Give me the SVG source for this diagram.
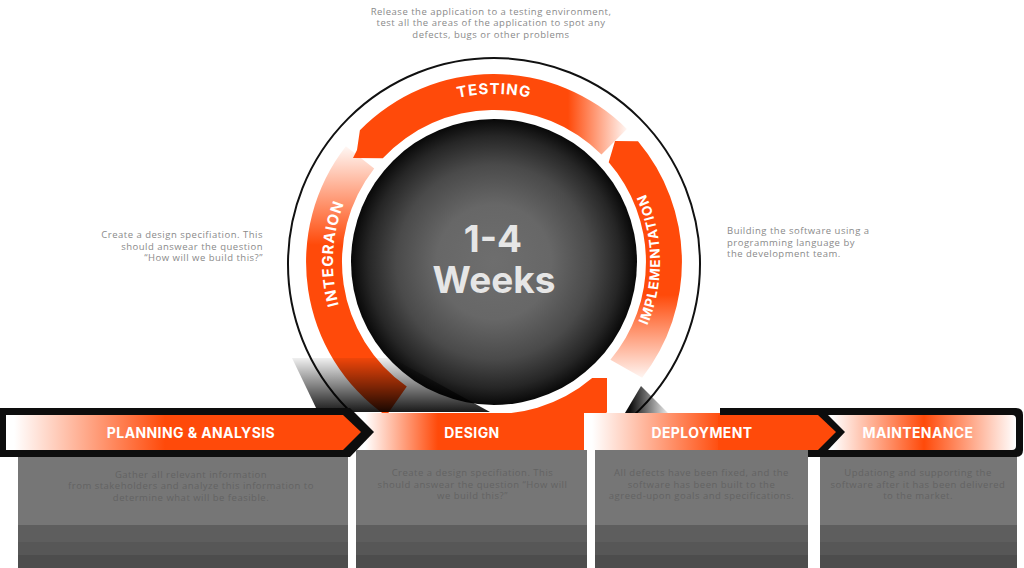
<svg xmlns="http://www.w3.org/2000/svg" width="1024" height="568" viewBox="0 0 1024 568">
<defs>
<style>
.ann{font-family:"Open Sans","Liberation Sans",sans-serif;font-size:9.5px;fill:#8a8a8a;letter-spacing:0.5px}
.card-t{font-family:"Open Sans","Liberation Sans",sans-serif;font-size:9.5px;fill:#636363;text-anchor:middle;letter-spacing:0.5px}
.lbl{font-family:Inter,"Liberation Sans",sans-serif;font-weight:700;font-size:14px;fill:#fff;text-anchor:middle;letter-spacing:0.4px}
.arc-t{font-family:Inter,"Liberation Sans",sans-serif;font-weight:700;fill:#fff;letter-spacing:1px}
.big{font-family:Inter,"Liberation Sans",sans-serif;font-weight:700;font-size:37px;fill:#e6e6e6;text-anchor:middle}
.ctop{fill:#767676}.s1{fill:#5e5e5e}.s2{fill:#575757}.s3{fill:#4d4d4d}
.org{fill:#ff4a0a}
</style>
<radialGradient id="core" cx="0.5" cy="0.5" r="0.5">
<stop offset="0" stop-color="#6e6e6e"/>
<stop offset="0.4" stop-color="#676767"/>
<stop offset="0.68" stop-color="#4a4a4a"/>
<stop offset="0.88" stop-color="#262626"/>
<stop offset="1" stop-color="#080808"/>
</radialGradient>
<linearGradient id="gTest" gradientUnits="userSpaceOnUse" x1="568" y1="0" x2="628" y2="0">
<stop offset="0" stop-color="#ff4a0a"/><stop offset="1" stop-color="#ff4a0a" stop-opacity="0.03"/>
</linearGradient>
<linearGradient id="gImpl" gradientUnits="userSpaceOnUse" x1="0" y1="295" x2="0" y2="380">
<stop offset="0" stop-color="#ff4a0a"/><stop offset="1" stop-color="#ff4a0a" stop-opacity="0.03"/>
</linearGradient>
<linearGradient id="gInt" gradientUnits="userSpaceOnUse" x1="0" y1="145" x2="0" y2="245">
<stop offset="0" stop-color="#ff4a0a" stop-opacity="0.03"/><stop offset="1" stop-color="#ff4a0a"/>
</linearGradient>
<linearGradient id="gPlan" gradientUnits="userSpaceOnUse" x1="14" y1="0" x2="165" y2="0">
<stop offset="0" stop-color="#fff"/><stop offset="1" stop-color="#ff4a0a"/>
</linearGradient>
<linearGradient id="gDes" gradientUnits="userSpaceOnUse" x1="365" y1="0" x2="438" y2="0">
<stop offset="0" stop-color="#fff"/><stop offset="1" stop-color="#ff4a0a"/>
</linearGradient>
<linearGradient id="gDep" gradientUnits="userSpaceOnUse" x1="592" y1="0" x2="722" y2="0">
<stop offset="0" stop-color="#fff"/><stop offset="1" stop-color="#ff4a0a"/>
</linearGradient>
<linearGradient id="gMaint" gradientUnits="userSpaceOnUse" x1="832" y1="0" x2="1016" y2="0">
<stop offset="0" stop-color="#fff"/><stop offset="0.5" stop-color="#ff4a0a"/><stop offset="1" stop-color="#fff"/>
</linearGradient>
<linearGradient id="gShL" gradientUnits="userSpaceOnUse" x1="0" y1="358" x2="0" y2="412">
<stop offset="0" stop-color="#000" stop-opacity="0.06"/><stop offset="1" stop-color="#000" stop-opacity="0.9"/>
</linearGradient>
<linearGradient id="gShR" gradientUnits="userSpaceOnUse" x1="630" y1="0" x2="668" y2="0">
<stop offset="0" stop-color="#000" stop-opacity="0.95"/><stop offset="1" stop-color="#000" stop-opacity="0.08"/>
</linearGradient>
<path id="pTest" d="M 326,262 A 168 168 0 0 1 662,262"/>
<path id="pInt" d="M 406.3,397 A 161 161 0 0 1 420.9,118.5"/>
<path id="pImpl" d="M 579.5,404.3 A 166 166 0 0 0 574.5,116.8"/>
</defs>

<g id="annotations">
<text class="ann" text-anchor="middle"><tspan x="491" y="14.5">Release the application to a testing environment,</tspan><tspan x="491" y="26">test all the areas of the application to spot any</tspan><tspan x="491" y="37.5">defects, bugs or other problems</tspan></text>
<text class="ann" text-anchor="end"><tspan x="263" y="238">Create a design specifiation. This</tspan><tspan x="263" y="249.5">should answear the question</tspan><tspan x="263" y="261">“How will we build this?”</tspan></text>
<text class="ann"><tspan x="727" y="234">Building the software using a</tspan><tspan x="727" y="245.5">programming language by</tspan><tspan x="727" y="257">the development team.</tspan></text>
</g>

<g id="cycle">
<circle cx="494" cy="264" r="206" fill="none" stroke="#111" stroke-width="2"/>
<circle cx="494" cy="262" r="143" fill="url(#core)"/>
<text class="big"><tspan x="493" y="252">1-4</tspan><tspan x="494" y="293">Weeks</tspan></text>
</g>

<g id="integration">
<path fill="url(#gInt)" d="M 386.2,416 A 188 188 0 0 1 345.9,146.3 L 374.2,168.4 A 152 152 0 0 0 406.8,386.5 Z"/>
<text class="arc-t" font-size="15" letter-spacing="1.3"><textPath href="#pInt" startOffset="50%" text-anchor="middle">INTEGRAION</textPath></text>
</g>

<g id="testing">
<path fill="url(#gTest)" d="M 359.9,130.2 A 188 188 0 0 1 626.9,129.1 L 601.5,154.5 A 152 152 0 0 0 382.8,158.3 L 353,158 L 357,150 Z"/>
<text class="arc-t" font-size="15"><textPath href="#pTest" startOffset="50%" text-anchor="middle">TESTING</textPath></text>
</g>

<g id="implementation">
<path fill="url(#gImpl)" d="M 638,141.2 A 188 188 0 0 1 642.1,377.7 L 610.4,359.7 A 152 152 0 0 0 608.7,162.3 L 615,141 Z"/>
<text class="arc-t" font-size="13.5"><textPath href="#pImpl" startOffset="50%" text-anchor="middle">IMPLEMENTATION</textPath></text>
</g>

<g id="design-arc">
<path class="org" d="M 607,378 L 607,412.3 A 188 188 0 0 1 471.1,448.6 L 475.5,412.9 A 152 152 0 0 0 592.2,378 Z"/>
</g>

<g id="shadows">
<polygon fill="url(#gShL)" points="292,358 392,358 490,412 318,412"/>
<polygon fill="url(#gShR)" points="641,386 625,413 668,413"/>
</g>

<g id="design">
<rect x="340" y="413" width="250" height="37" fill="url(#gDes)"/>
<text class="lbl" x="472" y="438">DESIGN</text>
</g>

<g id="deployment">
<rect x="584" y="413" width="142" height="37" fill="url(#gDep)"/>
<path fill="#0d0d0d" d="M 720,408 H 1016 Q 1023,408 1023,415 V 450 Q 1023,457 1016,457 H 720 Z"/>
<polygon class="org" points="718,415 818,415 836,432 818,450 718,450"/>
<text class="lbl" x="702" y="438">DEPLOYMENT</text>
</g>

<g id="maintenance">
<path fill="url(#gMaint)" d="M 828,415 H 1012 Q 1016,415 1016,419 V 446 Q 1016,450 1012,450 H 828 L 845,432 Z"/>
<text class="lbl" x="918" y="438">MAINTENANCE</text>
</g>

<g id="planning">
<polygon fill="#0d0d0d" points="0,408 350,408 374,432 350,457 0,457"/>
<polygon fill="url(#gPlan)" points="6,415 343,415 361,432 343,450 6,450"/>
<text class="lbl" x="191" y="438">PLANNING &amp; ANALYSIS</text>
</g>

<g id="cards">
<g id="card-planning">
<rect class="ctop" x="18" y="457" width="330" height="68"/>
<rect class="s1" x="18" y="525" width="330" height="17"/>
<rect class="s2" x="18" y="542" width="330" height="13"/>
<rect class="s3" x="18" y="555" width="330" height="13"/>
<text class="card-t"><tspan x="191" y="477.5">Gather all relevant information</tspan><tspan x="191" y="489">from stakeholders and analyze this information to</tspan><tspan x="191" y="500.5">determine what will be feasible.</tspan></text>
</g>
<g id="card-design">
<rect class="ctop" x="356" y="450" width="231" height="75"/>
<rect class="s1" x="356" y="525" width="231" height="17"/>
<rect class="s2" x="356" y="542" width="231" height="13"/>
<rect class="s3" x="356" y="555" width="231" height="13"/>
<text class="card-t"><tspan x="472.5" y="476">Create a design specifiation. This</tspan><tspan x="472.5" y="487.5">should answear the question “How will</tspan><tspan x="472.5" y="499">we build this?”</tspan></text>
</g>
<g id="card-deployment">
<rect class="ctop" x="595" y="450" width="213" height="75"/>
<rect class="s1" x="595" y="525" width="213" height="17"/>
<rect class="s2" x="595" y="542" width="213" height="13"/>
<rect class="s3" x="595" y="555" width="213" height="13"/>
<text class="card-t"><tspan x="701.5" y="476">All defects have been fixed, and the</tspan><tspan x="701.5" y="487.5">software has been built to the</tspan><tspan x="701.5" y="499">agreed-upon goals and specifications.</tspan></text>
</g>
<g id="card-maintenance">
<rect class="ctop" x="820" y="457" width="197" height="68"/>
<rect class="s1" x="820" y="525" width="197" height="17"/>
<rect class="s2" x="820" y="542" width="197" height="13"/>
<rect class="s3" x="820" y="555" width="197" height="13"/>
<text class="card-t"><tspan x="918" y="476">Updationg and supporting the</tspan><tspan x="918" y="487.5">software after it has been delivered</tspan><tspan x="918" y="499">to the market.</tspan></text>
</g>
</g>
</svg>
